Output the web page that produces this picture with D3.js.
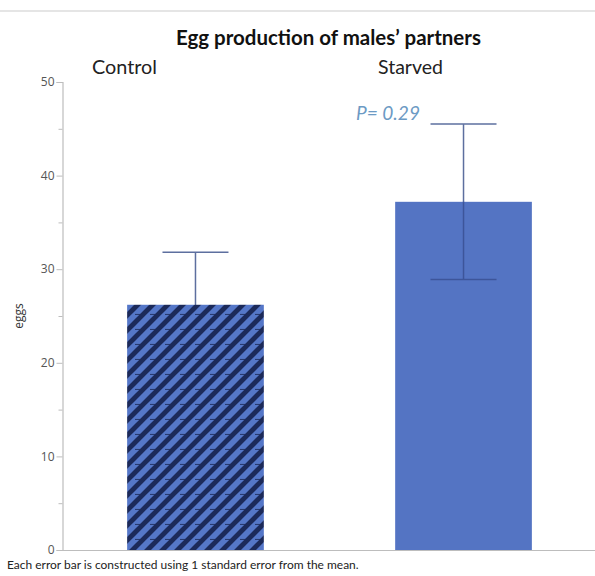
<!DOCTYPE html>
<html>
<head>
<meta charset="utf-8">
<script src="https://cdn.jsdelivr.net/npm/d3@7"></script>
<style>
  html, body { margin: 0; padding: 0; background: #fff; }
  svg { display: block; }
</style>
</head>
<body>
<svg id="chart" width="595" height="576"></svg>
<script>
// ---- data ----
const categories = ["Control", "Starved"];
const means = [26.2, 37.2];
const stdErrors = [5.6, 8.3];
const yTicks = [0, 10, 20, 30, 40, 50];
const yMinorTicks = [5, 15, 25, 35, 45];
const titleText = "Egg production of males\u2019 partners";
const yLabel = "eggs";
const pValueText = "P= 0.29";
const footnote = "Each error bar is constructed using 1 standard error from the mean.";

// ---- layout ----
const W = 595, H = 576;
const svg = d3.select("#chart");
const plotLeft = 62, plotRight = 597, plotTop = 82, plotBottom = 550;

const x = d3.scaleBand().domain(categories).range([plotLeft, plotRight])
  .paddingInner(0.49).paddingOuter(0.243);
const y = d3.scaleLinear().domain([0, 50]).range([plotBottom, plotTop]);

function fit(sel, target) {
  const fs = parseFloat(sel.attr("font-size"));
  const w = sel.node().getComputedTextLength();
  if (w > 0) sel.attr("font-size", (fs * target / w).toFixed(2));
  return sel;
}

// top separator line
svg.append("line").attr("x1", 0).attr("x2", W).attr("y1", 11).attr("y2", 11)
  .attr("stroke", "#dcdcdc").attr("stroke-width", 1.5);

// pattern for control bar
const defs = svg.append("defs");
const pat = defs.append("pattern").attr("id", "hatch")
  .attr("patternUnits", "userSpaceOnUse").attr("width", 15).attr("height", 15);
pat.append("rect").attr("width", 15).attr("height", 15).attr("fill", "#1c2a5a");
pat.append("path")
  .attr("d", "M-7.5,7.5 L7.5,-7.5 M0,15 L15,0 M7.5,22.5 L22.5,7.5")
  .attr("stroke", "#5577c8").attr("stroke-width", 5.8);
pat.append("path").attr("d", "M0,14.5 L6,14.5")
  .attr("stroke", "#1c2a5a").attr("stroke-width", 1.2).attr("opacity", 0.8);

// title
fit(svg.append("text").attr("x", 176).attr("y", 45)
  .attr("font-family", "Lato, 'Open Sans', sans-serif").attr("font-weight", "bold")
  .attr("font-size", 20).attr("fill", "#111").text(titleText), 305);

// category labels (top)
const labelStarts = [92, 378];
categories.forEach((c, i) => {
  fit(svg.append("text").attr("x", labelStarts[i]).attr("y", 74)
    .attr("font-family", "Lato, 'Open Sans', sans-serif")
    .attr("font-size", 21).attr("fill", "#222").text(c), 65);
});

// error bars drawn first (behind bars)
const errColor = "#5d6f9f";
const capHalf = 33;
categories.forEach((c, i) => {
  const cx = x(c) + x.bandwidth() / 2;
  const hi = y(means[i] + stdErrors[i]);
  const lo = y(means[i] - stdErrors[i]);
  svg.append("line").attr("x1", cx).attr("x2", cx).attr("y1", hi).attr("y2", lo)
    .attr("stroke", errColor).attr("stroke-width", 1.5);
  svg.append("line").attr("x1", cx - capHalf).attr("x2", cx + capHalf).attr("y1", hi).attr("y2", hi)
    .attr("stroke", errColor).attr("stroke-width", 1.5);
});

// bars
const fills = ["url(#hatch)", "#5474c3"];
svg.selectAll("rect.bar").data(categories).enter().append("rect")
  .attr("class", "bar")
  .attr("x", d => x(d)).attr("width", x.bandwidth())
  .attr("y", (d, i) => y(means[i])).attr("height", (d, i) => y(0) - y(means[i]))
  .attr("fill", (d, i) => fills[i]);

// error bars over the solid bar (visible through)
categories.forEach((c, i) => {
  if (i === 0) return;
  const cx = x(c) + x.bandwidth() / 2;
  const top = y(means[i]);
  const lo = y(means[i] - stdErrors[i]);
  svg.append("line").attr("x1", cx).attr("x2", cx).attr("y1", top).attr("y2", lo)
    .attr("stroke", "#3d559a").attr("stroke-width", 1.5);
  svg.append("line").attr("x1", cx - capHalf).attr("x2", cx + capHalf).attr("y1", lo).attr("y2", lo)
    .attr("stroke", "#3d559a").attr("stroke-width", 1.5);
});

// y axis
const axisColor = "#bdbdbd";
const yAxis = svg.append("g").attr("transform", `translate(${plotLeft + 0.5},0)`)
  .call(d3.axisLeft(y).tickValues(yTicks).tickSize(6).tickPadding(2).tickFormat(d3.format("d")));
yAxis.select(".domain").attr("stroke", axisColor).attr("stroke-width", 1.2);
yAxis.selectAll(".tick line").attr("stroke", axisColor);
yAxis.selectAll(".tick text").attr("font-family", "'Open Sans', sans-serif")
  .attr("font-size", 12).attr("fill", "#555").attr("dy", "0.3em");
const yMinor = svg.append("g").attr("transform", `translate(${plotLeft + 0.5},0)`)
  .call(d3.axisLeft(y).tickValues(yMinorTicks).tickSize(4).tickFormat(""));
yMinor.select(".domain").remove();
yMinor.selectAll(".tick line").attr("stroke", axisColor);

// x axis baseline
svg.append("line").attr("x1", plotLeft).attr("x2", W).attr("y1", y(0) + 0.5).attr("y2", y(0) + 0.5)
  .attr("stroke", axisColor).attr("stroke-width", 1.2);

// y label
svg.append("text").attr("transform", `translate(23,316) rotate(-90)`)
  .attr("text-anchor", "middle")
  .attr("font-family", "'Open Sans', sans-serif").attr("font-size", 12).attr("fill", "#333")
  .text(yLabel);

// p-value annotation
fit(svg.append("text").attr("x", 356).attr("y", 120)
  .attr("font-family", "Lato, 'Open Sans', sans-serif").attr("font-style", "italic")
  .attr("font-size", 19).attr("fill", "#6c9ac4").text(pValueText), 64);

// footnote
fit(svg.append("text").attr("x", 7).attr("y", 569)
  .attr("font-family", "Lato, 'Open Sans', sans-serif").attr("font-size", 13)
  .attr("fill", "#222").text(footnote), 352);
</script>
</body>
</html>
